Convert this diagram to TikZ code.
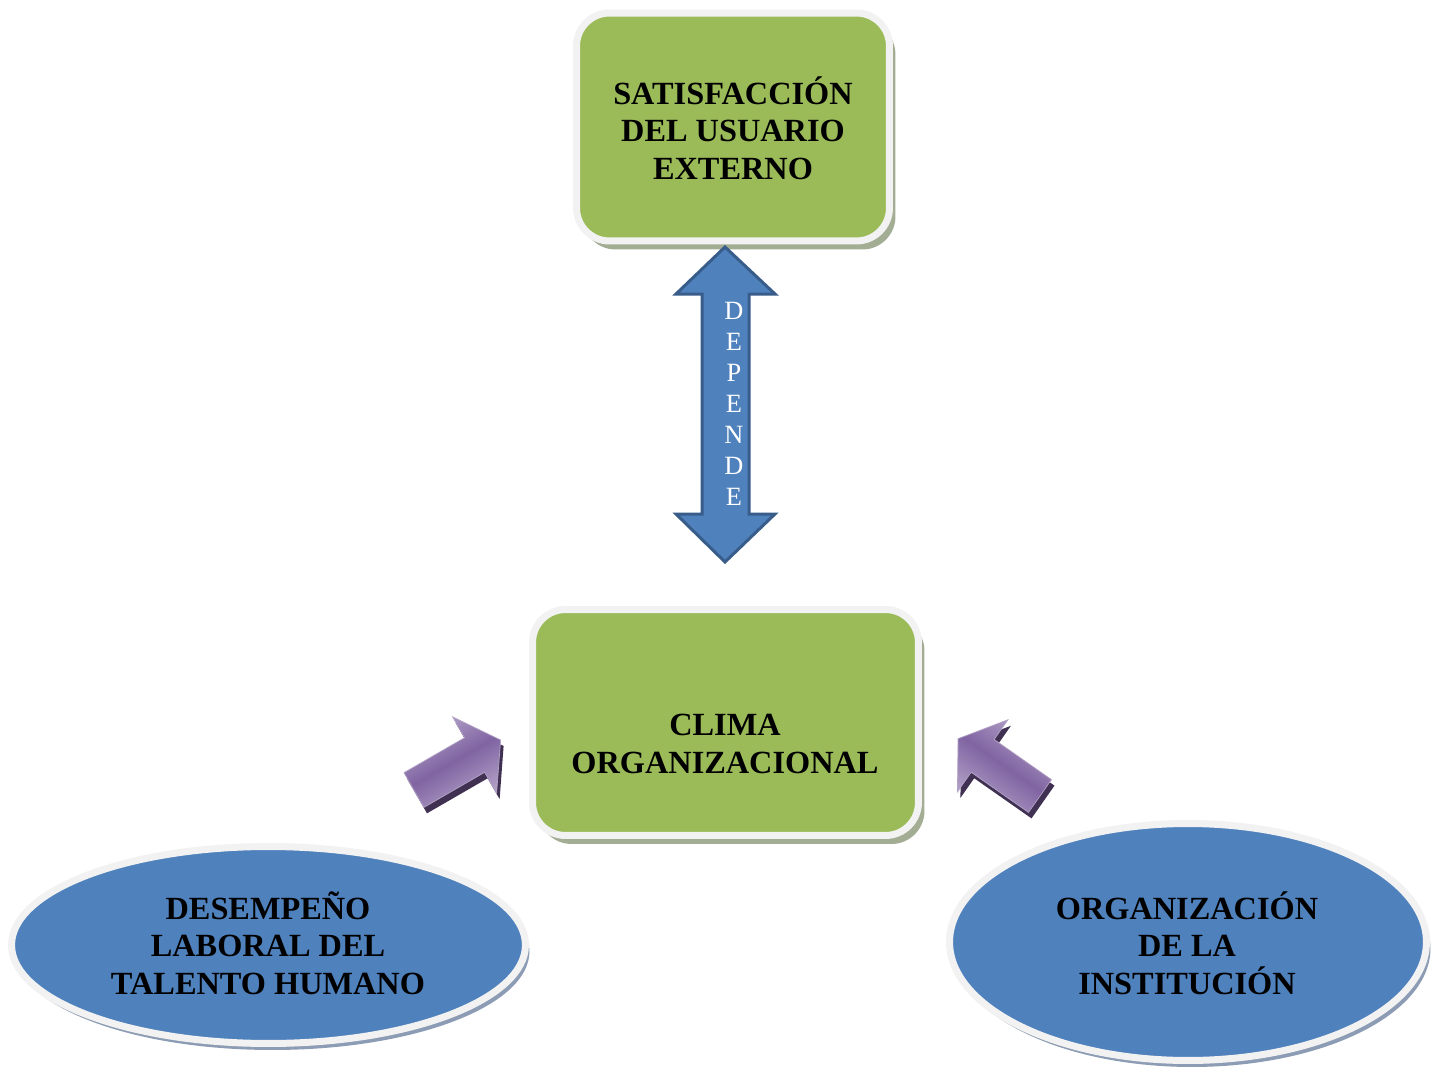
\documentclass[tikz,border=0pt]{standalone}
\usepackage{fontspec}
\setmainfont{Liberation Serif}
\usetikzlibrary{shapes.geometric,shadows}

\definecolor{boxgreen}{HTML}{9BBB59}
\definecolor{ovalblue}{HTML}{4F81BD}
\definecolor{dblue}{HTML}{4F81BD}
\definecolor{dedge}{HTML}{385D8A}
\definecolor{rim}{HTML}{F2F2F2}
\definecolor{boxshade}{HTML}{A3AD93}
\definecolor{ovalshade}{HTML}{8C9CB4}
\definecolor{purplight}{HTML}{B3A2C7}
\definecolor{purpmid}{HTML}{8064A2}
\definecolor{purpdark}{HTML}{403152}

\begin{document}
\begin{tikzpicture}[x=0.02cm, y=-0.02cm,
    boxtxt/.style={font=\bfseries\fontsize{18.4pt}{21.3pt}\selectfont, align=center, inner sep=0pt},
    greenbox/.style={rectangle, rounded corners=0.66cm, fill=boxgreen, draw=rim, line width=0.14cm,
        drop shadow={shadow xshift=0.12cm, shadow yshift=-0.17cm, fill=boxshade, opacity=1}},
    blueoval/.style={ellipse, fill=ovalblue, draw=rim, line width=0.14cm, inner sep=0pt,
        drop shadow={shadow xshift=0.08cm, shadow yshift=-0.13cm, fill=ovalshade, opacity=1}},
    purpside/.style={fill=purpdark},
    purptop/.style={draw=purplight, line width=0.4pt, top color=purplight, bottom color=purplight, middle color=purpmid}
]
    \path[use as bounding box, fill=white] (0,0) rectangle (1441,1068);

    % nodes: sat clima
    \node[greenbox, minimum width=6.26cm, minimum height=4.56cm] (sat) at (733,127) {};
    \node[boxtxt] (sattxt) at (733,128) {SATISFACCIÓN\\DEL USUARIO\\EXTERNO};
    \node[greenbox, minimum width=7.72cm, minimum height=4.52cm] (clima) at (725.5,722.5) {};
    \node[boxtxt] (climatxt) at (725,744) {CLIMA\\ORGANIZACIONAL};

    % nodes: des org
    \node[blueoval, minimum width=10.28cm, minimum height=3.94cm] (des) at (268.5,945) {};
    \node[boxtxt] (destxt) at (268,943) {DESEMPEÑO\\LABORAL DEL\\TALENTO HUMANO};
    \node[blueoval, minimum width=9.54cm, minimum height=4.74cm] (org) at (1188,942) {};
    \node[boxtxt] (orgtxt) at (1187,943) {ORGANIZACIÓN\\DE LA\\INSTITUCIÓN};

    % double arrow sat <-> clima
    \draw[fill=dblue, draw=dedge, line width=0.06cm]
        (725,247) -- (775,294) -- (749,294) -- (749,514) -- (775,514) -- (725,562)
        -- (676,514) -- (702,514) -- (702,294) -- (676,294) -- cycle;
    \node[text=white, font=\fontsize{15pt}{17.6pt}\selectfont, align=center, inner sep=0pt] (dep)
        at (734,404) {D\\E\\P\\E\\N\\D\\E};

    % purple arrows: des -> clima, org -> clima
    \begin{scope}[shift={(417,796)}, rotate=30]
        \fill[purpside] (0,-20) -- (70,-20) -- (70,-44) -- (100,0) -- (70,44) -- (70,20) -- (0,20) -- cycle;
    \end{scope}
    \begin{scope}[shift={(414,790)}, rotate=30]
        \shade[purptop, shading angle=30] (0,-20) -- (70,-20) -- (70,-44) -- (100,0) -- (70,44) -- (70,20) -- (0,20) -- cycle;
    \end{scope}
    \begin{scope}[shift={(1043,802)}, rotate=145]
        \fill[purpside] (0,-20) -- (70,-20) -- (70,-44) -- (100,0) -- (70,44) -- (70,20) -- (0,20) -- cycle;
    \end{scope}
    \begin{scope}[shift={(1040,796)}, rotate=145]
        \shade[purptop, shading angle=-35] (0,-20) -- (70,-20) -- (70,-44) -- (100,0) -- (70,44) -- (70,20) -- (0,20) -- cycle;
    \end{scope}
\end{tikzpicture}
\end{document}
